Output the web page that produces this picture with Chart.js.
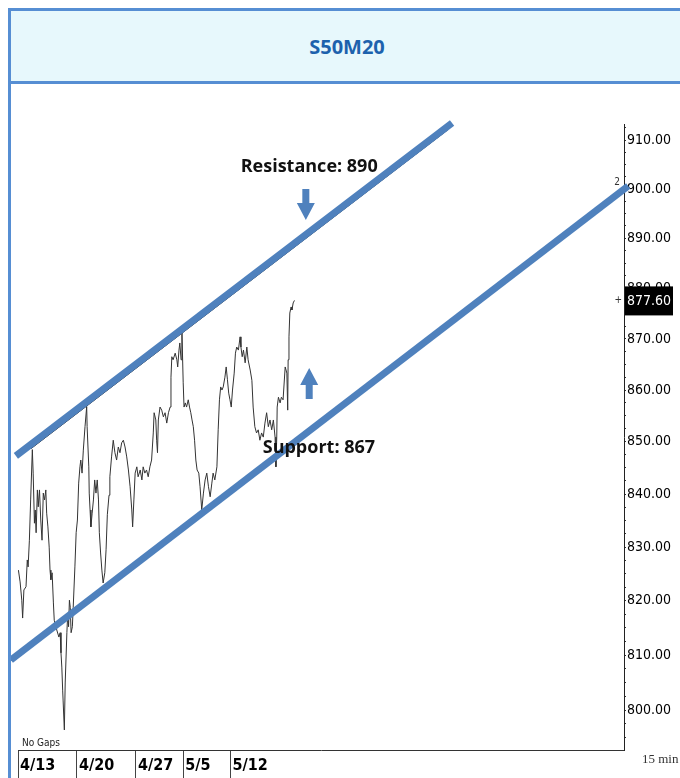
<!DOCTYPE html>
<html>
<head>
<meta charset="utf-8">
<script src="https://cdn.jsdelivr.net/npm/chart.js@4.4.1/dist/chart.umd.min.js"></script>
<style>
  html, body { margin: 0; padding: 0; background: #fff; width: 680px; height: 778px; overflow: hidden; }
  #frame { position: absolute; left: 8px; top: 8px; width: 672px; height: 800px;
           border-left: 3px solid #568ed3; border-top: 3px solid #568ed3; }
  #title { height: 70px; background: #e7f8fc; border-bottom: 3px solid #568ed3;
           font: bold 20px "Open Sans", sans-serif; color: #1d62ad;
           display: flex; align-items: center; justify-content: center; }
  #chart { position: absolute; left: 11px; top: 84px; }
</style>
</head>
<body>
<div id="frame"><div id="title">S50M20</div></div>
<canvas id="chart" width="669" height="694"></canvas>
<script>
// 15 min bars, counted from the first bar of 4/13 (28 bars per session)
var dateBars = [0, 140, 280, 392, 504];
var dateLabels = ['4/13', '4/20', '4/27', '5/5', '5/12'];
var yTicks = [800, 810, 820, 830, 840, 850, 860, 870, 880, 890, 900, 910];

var bars = [1, 5, 9, 11, 14, 19, 22, 24, 27, 30, 34, 36, 39, 41, 43, 46, 48, 51, 54, 57,
  60, 63, 66, 68, 71, 74, 76, 78, 81, 84, 86, 92, 97, 100, 102, 104, 106, 107, 110, 112,
  116, 118, 120, 122, 124, 126, 129, 131, 135, 138, 141, 144, 147, 149, 152, 155, 159, 163, 164, 168,
  169, 171, 173, 176, 179, 182, 185, 188, 191, 193, 196, 199, 202, 206, 209, 212, 216, 218, 222, 226,
  230, 234, 238, 242, 246, 250, 254, 258, 262, 266, 270, 272, 275, 278, 282, 285, 290, 294, 297, 301,
  305, 309, 313, 317, 321, 323, 327, 329, 331, 333, 337, 341, 345, 349, 353, 357, 361, 363, 365, 368,
  373, 377, 379, 382, 384, 387, 389, 392, 394, 397, 400, 404, 407, 410, 413, 416, 419, 422, 425, 429,
  432, 436, 440, 444, 448, 452, 456, 460, 463, 467, 472, 475, 478, 481, 484, 487, 491, 494, 497, 500,
  503, 506, 509, 513, 516, 519, 523, 527, 529, 532, 535, 539, 543, 546, 551, 555, 558, 562, 566, 570,
  574, 578, 582, 586, 590, 594, 598, 602, 606, 610, 612, 614, 615, 618, 622, 625, 629, 634, 638, 640,
  641, 643, 645, 648, 650, 653, 656];
var closes = [825.7, 823.5, 820.1, 816.8, 822.0, 822.6, 827.6, 826.3, 831.3, 838.9, 848.5, 844.0, 834.5, 837.0, 832.7, 840.8, 837.6, 840.8, 835.1, 831.3,
  840.2, 838.9, 840.8, 836.4, 833.8, 830.0, 825.7, 823.9, 825.2, 819.6, 816.4, 814.6, 813.3, 814.1, 810.4, 807.8, 803.6, 801.8, 796.4, 804.9,
  814.1, 817.7, 815.2, 820.1, 818.8, 814.1, 815.2, 818.8, 826.3, 832.7, 835.1, 842.1, 845.2, 846.5, 844.0, 848.4, 852.9, 856.8, 852.9, 845.2,
  840.2, 837.0, 833.8, 836.4, 838.9, 842.7, 840.2, 842.7, 838.9, 832.7, 828.9, 825.7, 823.3, 825.2, 829.5, 836.1, 839.8, 843.3, 847.1, 850.3,
  847.9, 846.5, 849.0, 847.9, 849.8, 850.3, 849.0, 847.1, 844.6, 841.4, 837.0, 833.8, 838.9, 844.0, 845.2, 843.3, 844.6, 842.7, 845.2, 844.0,
  844.6, 843.3, 845.2, 846.5, 851.7, 855.6, 854.2, 850.3, 847.9, 854.2, 856.7, 856.1, 854.8, 855.6, 853.6, 855.6, 856.7, 862.5, 866.5, 865.9,
  867.2, 865.9, 864.5, 867.8, 869.2, 865.9, 871.5, 861.4, 856.7, 857.5, 856.7, 858.1, 856.7, 855.6, 854.2, 852.9, 850.3, 846.5, 844.6, 844.0,
  841.4, 837.0, 840.2, 842.7, 844.0, 841.4, 839.5, 842.1, 844.0, 842.7, 845.2, 852.3, 858.1, 860.6, 860.0, 860.6, 862.5, 864.5, 862.0, 859.4,
  858.1, 856.7, 860.0, 863.3, 867.2, 868.4, 867.8, 870.4, 868.4, 866.5, 867.8, 865.3, 868.4, 865.9, 863.9, 861.9, 856.7, 852.9, 851.7, 852.3,
  850.3, 851.7, 850.9, 853.6, 855.6, 852.9, 854.2, 852.3, 854.2, 850.9, 845.2, 850.9, 856.7, 858.6, 857.5, 858.6, 858.1, 864.5, 863.3, 856.1,
  865.9, 870.4, 875.1, 876.3, 875.7, 877.1, 877.6];

// hand drawn channel
var resistanceBars = [-5, 1030];
var resistancePrices = [847.3, 913.5];
var touchBars = [31, 1020];
var touchPrices = [848.7, 912.1];
var supportBars = [-17, 1448];
var supportPrices = [809.1, 900.6];

// notes and arrows
var noteTexts = ['Resistance: 890', 'Support: 867'];
var noteBars = [691, 714];
var notePrices = [904.45, 848.8];
var arrowBars = [683, 691];
var arrowPrices = [893.7, 864.3];
var arrowDirs = [1, -1]; // 1 = pointing down

function pts(xs, ys) {
  return xs.map(function (x, i) { return { x: x, y: ys[i] }; });
}

var narrow = '"DejaVu Sans Condensed", "Liberation Sans", sans-serif';
var blue = '#4f81bd';

var overlay = {
  id: 'overlay',
  afterDatasetsDraw: function (chart) {
    var ctx = chart.ctx, xs = chart.scales.x, ys = chart.scales.y;
    ctx.save();
    // arrows
    ctx.fillStyle = blue;
    for (var i = 0; i < arrowBars.length; i++) {
      var x = xs.getPixelForValue(arrowBars[i]);
      var y = ys.getPixelForValue(arrowPrices[i]);
      var d = arrowDirs[i];
      ctx.beginPath();
      ctx.moveTo(x, y);
      ctx.lineTo(x - 9, y - 17 * d);
      ctx.lineTo(x - 3.5, y - 17 * d);
      ctx.lineTo(x - 3.5, y - 31 * d);
      ctx.lineTo(x + 3.5, y - 31 * d);
      ctx.lineTo(x + 3.5, y - 17 * d);
      ctx.lineTo(x + 9, y - 17 * d);
      ctx.closePath();
      ctx.fill();
    }
    // notes
    ctx.fillStyle = '#111';
    ctx.font = 'bold 18px "Open Sans", sans-serif';
    ctx.textAlign = 'center';
    ctx.textBaseline = 'middle';
    for (var j = 0; j < noteTexts.length; j++) {
      ctx.fillText(noteTexts[j], xs.getPixelForValue(noteBars[j]), ys.getPixelForValue(notePrices[j]));
    }
    ctx.restore();
  },
  afterDraw: function (chart) {
    var ctx = chart.ctx, ys = chart.scales.y, area = chart.chartArea;
    var last = closes[closes.length - 1];
    var py = ys.getPixelForValue(last);
    ctx.save();
    // last price box
    ctx.fillStyle = '#000';
    ctx.fillRect(area.right + 1, py - 14, 48, 29);
    ctx.fillStyle = '#fff';
    ctx.font = '14px ' + narrow;
    ctx.textAlign = 'left';
    ctx.textBaseline = 'middle';
    ctx.fillText(last.toFixed(2), area.right + 3, py + 1);
    // small marks left of the axis
    ctx.fillStyle = '#333';
    ctx.font = '10px ' + narrow;
    ctx.textAlign = 'right';
    ctx.fillText('2', area.right - 4, ys.getPixelForValue(900) - 6);
    ctx.fillText('+', area.right - 2, py);
    // corner labels
    ctx.textAlign = 'left';
    ctx.textBaseline = 'alphabetic';
    ctx.fillStyle = '#222';
    ctx.font = '10px ' + narrow;
    ctx.fillText('No Gaps', area.left + 4, area.bottom - 4);
    ctx.fillStyle = '#333';
    ctx.font = '13px "Liberation Serif", serif';
    ctx.fillText('15 min', area.right + 18, area.bottom + 13);
    ctx.restore();
  }
};

var ctx = document.getElementById('chart').getContext('2d');
var chart = new Chart(ctx, {
  type: 'line',
  data: {
    datasets: [
      { data: pts(resistanceBars, resistancePrices), borderColor: blue, borderWidth: 7, clip: false },
      { data: pts(supportBars, supportPrices), borderColor: blue, borderWidth: 7, clip: false },
      { data: pts(touchBars, touchPrices), borderColor: '#111', borderWidth: 1, clip: false },
      { data: pts(bars, closes), borderColor: '#333', borderWidth: 1 }
    ]
  },
  options: {
    responsive: false,
    animation: false,
    devicePixelRatio: 1,
    layout: { padding: { left: 7, top: 40, right: 0, bottom: 0 } },
    elements: { point: { radius: 0 }, line: { tension: 0 } },
    plugins: { legend: { display: false }, tooltip: { enabled: false } },
    scales: {
      x: {
        type: 'linear',
        min: 0,
        max: 1438,
        afterFit: function (s) { s.height = 28; },
        afterBuildTicks: function (s) { s.ticks = dateBars.map(function (v) { return { value: v }; }); },
        grid: { drawOnChartArea: false, tickLength: 28, tickColor: '#444' },
        border: { color: '#333', width: 1 },
        ticks: {
          autoSkip: false,
          maxRotation: 0,
          align: 'start',
          labelOffset: 2,
          padding: -22,
          color: '#000',
          font: { family: narrow, size: 16, weight: 'bold' },
          callback: function (v) { return dateLabels[dateBars.indexOf(v)]; }
        }
      },
      y: {
        type: 'logarithmic',
        position: 'right',
        min: 792.8,
        max: 913.3,
        bounds: 'data',
        afterFit: function (s) { s.width = 56; },
        afterBuildTicks: function (s) {
          var t = [];
          for (var v = 795; v <= 912.5; v += 2.5) t.push({ value: v });
          s.ticks = t;
        },
        grid: { drawOnChartArea: false, tickLength: 2, tickColor: '#333' },
        border: { color: '#222', width: 1 },
        ticks: {
          autoSkip: false,
          padding: 1,
          color: '#000',
          font: { family: narrow, size: 14 },
          callback: function (v) { return yTicks.indexOf(v) >= 0 ? v.toFixed(2) : ''; }
        }
      }
    }
  },
  plugins: [overlay]
});
</script>
</body>
</html>
